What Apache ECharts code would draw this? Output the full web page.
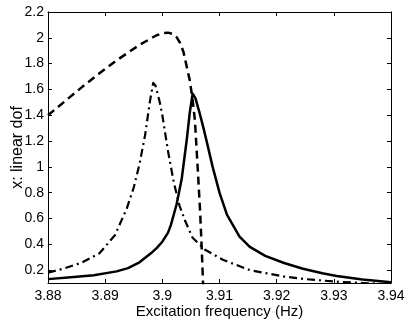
<!DOCTYPE html>
<html>
<head>
    <meta charset="utf-8">
    <title>Excitation frequency response</title>
    <script src="https://cdn.jsdelivr.net/npm/echarts@6.0.0/dist/echarts.min.js"></script>
    <style>
        html, body { margin: 0; padding: 0; background: #fff; }
        #main { width: 407px; height: 321px; }
    </style>
</head>
<body>
    <div id="main"></div>
    <script>
        var myChart = echarts.init(document.getElementById('main'));

        // tick labels
        const xTicks = [3.88, 3.89, 3.9, 3.91, 3.92, 3.93, 3.94];
        const yTicks = [0.2, 0.4, 0.6, 0.8, 1, 1.2, 1.4, 1.6, 1.8, 2, 2.2];

        // dashed branch (jumps down near 3.907)
        const freqDash = [3.880, 3.883, 3.886, 3.889, 3.892, 3.894, 3.896, 3.898, 3.899, 3.900, 3.901,
            3.9018, 3.9025, 3.9031, 3.9037, 3.904, 3.9045, 3.9048, 3.9053, 3.9057, 3.9062, 3.9066, 3.9069, 3.9072];
        const ampDash = [1.40, 1.51, 1.62, 1.725, 1.825, 1.885, 1.945, 1.995, 2.02, 2.035, 2.04,
            2.03, 2.005, 1.96, 1.89, 1.83, 1.73, 1.67, 1.52, 1.36, 0.98, 0.66, 0.36, 0.0];

        // dash-dot curve
        const freqDashDot = [3.880, 3.883, 3.886, 3.889, 3.8917, 3.8938, 3.895, 3.896, 3.897, 3.8978, 3.8984,
            3.8988, 3.8995, 3.900, 3.901, 3.902, 3.903, 3.904, 3.9053, 3.9074, 3.9106, 3.9153, 3.9213, 3.925,
            3.9305, 3.935, 3.94];
        const ampDashDot = [0.18, 0.215, 0.26, 0.33, 0.47, 0.68, 0.84, 1.02, 1.25, 1.50, 1.65,
            1.63, 1.51, 1.40, 1.12, 0.88, 0.70, 0.58, 0.45, 0.36, 0.28, 0.20, 0.15, 0.13,
            0.11, 0.10, 0.09];

        // solid curve
        const freqSolid = [3.880, 3.884, 3.888, 3.892, 3.894, 3.896, 3.898, 3.899, 3.900, 3.901, 3.9015, 3.9025,
            3.9034, 3.9043, 3.9048, 3.9053, 3.9058, 3.9065, 3.9072, 3.9078, 3.9088, 3.910, 3.9113, 3.9135, 3.9153,
            3.918, 3.9213, 3.9246, 3.928, 3.9305, 3.935, 3.94];
        const ampSolid = [0.13, 0.145, 0.16, 0.19, 0.215, 0.26, 0.33, 0.37, 0.42, 0.49, 0.55, 0.71,
            0.91, 1.22, 1.42, 1.567, 1.53, 1.42, 1.30, 1.19, 1.00, 0.80, 0.63, 0.46, 0.38,
            0.31, 0.255, 0.21, 0.175, 0.155, 0.128, 0.105];

        function pairs(xs, ys) {
            return xs.map((x, i) => [x, ys[i]]);
        }

        const font = 'Liberation Sans, Arial, Helvetica, sans-serif';

        function xAxisCfg(pos, showLabels) {
            return {
                type: 'value',
                position: pos,
                min: 3.88,
                max: 3.94,
                interval: 0.01,
                name: showLabels ? 'Excitation frequency (Hz)' : '',
                nameLocation: 'middle',
                nameGap: 21,
                nameMoveOverlap: false,
                nameTextStyle: { color: '#000', fontSize: 15, fontFamily: font, verticalAlign: 'top' },
                axisLine: { show: true, onZero: false, lineStyle: { color: '#000', width: 1 } },
                axisTick: { show: true, inside: true, length: 4, lineStyle: { color: '#000' } },
                axisLabel: {
                    show: showLabels, color: '#000', fontSize: 14, fontFamily: font, margin: 6,
                    formatter: v => String(+v.toFixed(2))
                },
                splitLine: { show: false }
            };
        }

        function yAxisCfg(pos, showLabels) {
            return {
                type: 'value',
                position: pos,
                min: 0.1,
                max: 2.2,
                name: showLabels ? 'x: linear dof' : '',
                nameLocation: 'middle',
                nameGap: 22,
                nameMoveOverlap: false,
                nameTextStyle: { color: '#000', fontSize: 16, fontFamily: font },
                axisLine: { show: true, onZero: false, lineStyle: { color: '#000', width: 1 } },
                axisTick: { show: true, inside: true, length: 4, customValues: yTicks, lineStyle: { color: '#000' } },
                axisLabel: {
                    show: showLabels, color: '#000', fontSize: 14, fontFamily: font, margin: 4,
                    customValues: yTicks,
                    formatter: v => String(+v.toFixed(1))
                },
                splitLine: { show: false }
            };
        }

        const option = {
            animation: false,
            backgroundColor: '#fff',
            grid: { left: 48, right: 16, top: 12, bottom: 38, containLabel: false, outerBoundsMode: 'none' },
            xAxis: [xAxisCfg('bottom', true), xAxisCfg('top', false)],
            yAxis: [yAxisCfg('left', true), yAxisCfg('right', false)],
            series: [
                {
                    type: 'line',
                    data: pairs(freqDash, ampDash),
                    showSymbol: false,
                    smooth: false,
                    clip: true,
                    lineStyle: { color: '#000', width: 2.5, type: [8, 5], join: 'round' }
                },
                {
                    type: 'line',
                    data: pairs(freqDashDot, ampDashDot),
                    showSymbol: false,
                    smooth: false,
                    clip: true,
                    lineStyle: { color: '#000', width: 2.2, type: [8, 4, 2, 4], join: 'round' }
                },
                {
                    type: 'line',
                    data: pairs(freqSolid, ampSolid),
                    showSymbol: false,
                    smooth: false,
                    clip: true,
                    lineStyle: { color: '#000', width: 2.5, join: 'round' }
                }
            ]
        };

        myChart.setOption(option);
    </script>
</body>
</html>
